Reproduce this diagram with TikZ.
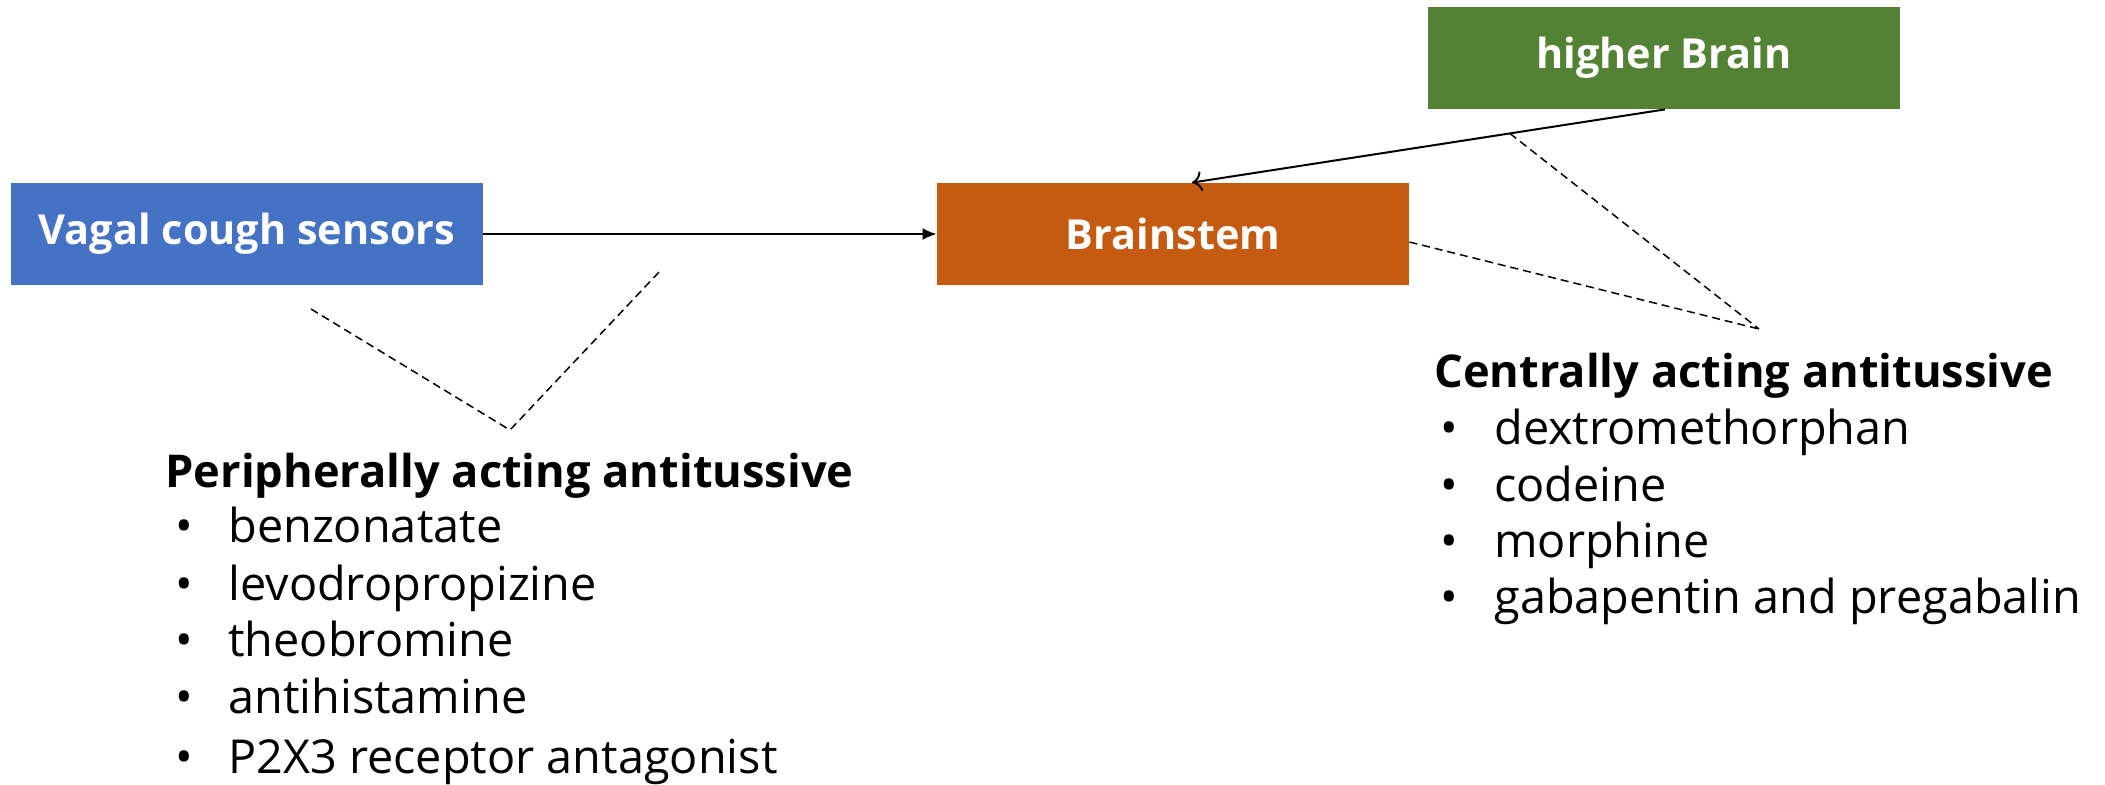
\documentclass[tikz,border=0pt]{standalone}
\usepackage{fontspec}
\setmainfont{Open Sans}
\usetikzlibrary{arrows.meta}
\definecolor{cblue}{HTML}{4472C4}
\definecolor{corange}{HTML}{C55A11}
\definecolor{cgreen}{HTML}{548235}
\tikzset{
  box/.style={rectangle, minimum width=236pt, minimum height=51pt, inner sep=0pt, text=white, font=\fontsize{20.7}{25}\selectfont\bfseries},
  head/.style={anchor=base west, inner sep=0pt, font=\fontsize{22.6}{27}\selectfont\bfseries},
  item/.style={anchor=base west, inner sep=0pt, font=\fontsize{23.4}{28}\selectfont},
  conn/.style={line width=1pt},
  dline/.style={line width=0.75pt, dash pattern=on 4pt off 2.5pt},
}
\begin{document}
\begin{tikzpicture}[x=0.5pt,y=-0.5pt]
\useasboundingbox (0,0) rectangle (2105,784);
\node[box, fill=cblue] (v) at (247,234) {Vagal cough sensors};
\node[box, fill=corange] (b) at (1173,234) {Brainstem};
\node[box, fill=cgreen] (h) at (1664,58) {higher Brain};
\draw[conn, -{Latex[length=7pt,width=6pt]}] (v.east) -- (b.west);
\draw[conn, -{To[length=5pt,width=10pt]}] ([xshift=0.5pt]h.south) -- node[pos=0.328, coordinate] (m) {} ([xshift=9.5pt]b.north);
% peripheral dashed
\coordinate (p1) at (311,309);
\coordinate (p2) at (510,430);
\coordinate (p3) at (660,271);
\draw[dline] (p1) -- (p2) -- (p3);
% central dashed
\coordinate (q) at (1759,329);
\draw[dline] ([yshift=-4pt]b.east) -- (q);
\draw[dline] (m) -- (q);
% peripheral list
\node[head] (ph) at (165,487) {Peripherally acting antitussive};
\foreach \t/\y/\n in {benzonatate/542/1, levodropropizine/600/2, theobromine/656/3, antihistamine/713/4, P2X3 receptor antagonist/773/5}{
  \node[item] (pb\n) at (175,\y) {•};
  \node[item] (pi\n) at (228,\y) {\t};
}
% central list
\node[head] (ch) at (1434,387) {Centrally acting antitussive};
\foreach \t/\y/\n in {dextromethorphan/444/1, codeine/501/2, morphine/557/3, gabapentin and pregabalin/613/4}{
  \node[item] (cb\n) at (1440,\y) {•};
  \node[item] (ci\n) at (1494,\y) {\t};
}
\end{tikzpicture}
\end{document}
